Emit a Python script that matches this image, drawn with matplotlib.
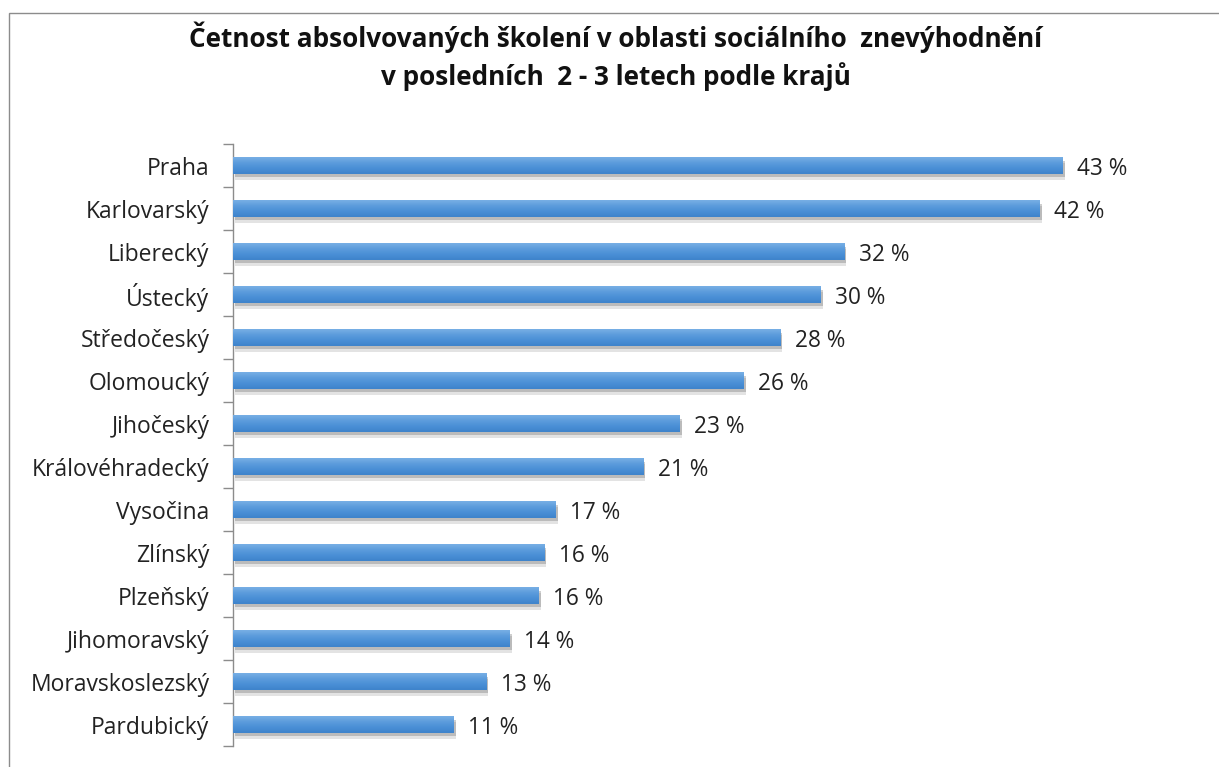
import matplotlib
matplotlib.use("Agg")
import matplotlib.pyplot as plt
import matplotlib.patheffects as pe
from matplotlib.patches import Rectangle
from matplotlib.colors import LinearSegmentedColormap
import numpy as np

categories = ["Praha", "Karlovarský", "Liberecký", "Ústecký", "Středočeský",
              "Olomoucký", "Jihočeský", "Královéhradecký", "Vysočina", "Zlínský",
              "Plzeňský", "Jihomoravský", "Moravskoslezský", "Pardubický"]
values = [42.9, 41.7, 31.6, 30.4, 28.3, 26.4, 23.1, 21.2, 16.7, 16.1, 15.8, 14.3, 13.1, 11.4]
title = "Četnost absolvovaných školení v oblasti sociálního  znevýhodnění\nv posledních  2 - 3 letech podle krajů"

W, H = 1219, 767
fig = plt.figure(figsize=(W / 100, H / 100), dpi=100)
fig.patch.set_facecolor("white")

# chart border (cropped at right and bottom)
fig.patches.append(Rectangle((8.5 / W, -0.1), 1.2, 1 - 12.5 / H + 0.1,
                             transform=fig.transFigure, fill=False,
                             edgecolor="#8c8c8c", linewidth=1.0))

left, right = 233 / W, 1200 / W
top, bottom = 1 - 144 / H, 1 - 746 / H
ax = fig.add_axes([left, bottom, right - left, top - bottom])

font = "Open Sans"
y = np.arange(len(categories))
bars = ax.barh(y, values, height=0.39, color="#4a8fd6", zorder=3,
               path_effects=[pe.SimplePatchShadow(offset=(1.5, -4.5), shadow_rgbFace="#777777", alpha=0.2),
                             pe.SimplePatchShadow(offset=(1.5, -2.5), shadow_rgbFace="#555555", alpha=0.28),
                             pe.Normal()])

# vertical gradient inside each bar
grad = np.linspace(0, 1, 64).reshape(-1, 1)
cmap = LinearSegmentedColormap.from_list("b", ["#78afe5", "#5c9cdc", "#4a8fd6", "#3e83cb"])
for b in bars:
    x0, y0, w, h = b.get_x(), b.get_y(), b.get_width(), b.get_height()
    im = ax.imshow(grad, cmap=cmap, aspect="auto", extent=(x0, x0 + w, y0 + h, y0),
                   zorder=4, interpolation="bicubic")
    im.set_clip_path(b)

ax.set_xlim(0, 50)
ax.set_ylim(len(categories) - 0.5, -0.5)

for yi, v in zip(y, values):
    ax.text(v + 0.75, yi, f"{v:.0f} %", va="center_baseline", ha="left", fontsize=16.3,
            family=font, color="#222222", zorder=5)

ax.set_yticks(y)
ax.set_yticklabels(categories, family=font, fontsize=16.5, color="#222222",
                   va="center_baseline")
ax.tick_params(axis="y", which="major", length=0, pad=17)
ax.set_yticks(np.arange(-0.5, len(categories)), minor=True)
ax.tick_params(axis="y", which="minor", length=7.5, width=1, color="#8c8c8c", direction="out")
ax.set_xticks([])
for s in ["top", "right", "bottom"]:
    ax.spines[s].set_visible(False)
ax.spines["left"].set_color("#8c8c8c")
ax.spines["left"].set_linewidth(1.0)

fig.text(615.5 / W, 1 - 56 / H, title, ha="center", va="center", fontsize=18.8,
         fontweight="bold", family=font, color="#111111", linespacing=1.4)

fig.savefig("out.png", dpi=100, facecolor="white")
